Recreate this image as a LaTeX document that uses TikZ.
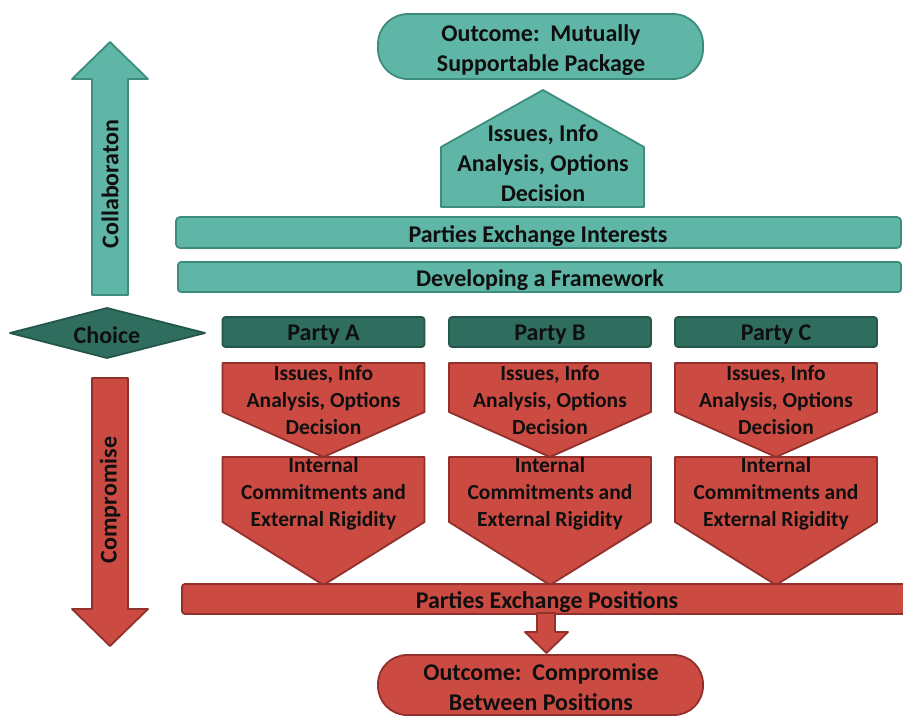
\documentclass[tikz,border=0pt]{standalone}
\usepackage{fontspec}
\setmainfont{Carlito}
\definecolor{tealfill}{RGB}{95,181,166}
\definecolor{tealline}{RGB}{62,140,125}
\definecolor{darkfill}{RGB}{47,110,95}
\definecolor{darkline}{RGB}{36,86,74}
\definecolor{redfill}{RGB}{203,75,67}
\definecolor{redline}{RGB}{146,48,44}
\definecolor{ink}{RGB}{15,15,15}
\begin{document}
\begin{tikzpicture}[x=1pt,y=-1pt,
  tealshape/.style={fill=tealfill,draw=tealline,line width=1.8pt,line join=round},
  darkshape/.style={fill=darkfill,draw=darkline,line width=1.8pt,line join=round},
  redshape/.style={fill=redfill,draw=redline,line width=1.8pt,line join=round},
  bigtext/.style={font=\bfseries\fontsize{24}{30}\selectfont,text=ink,align=center,inner sep=0pt},
  smalltext/.style={font=\bfseries\fontsize{21.5}{27}\selectfont,text=ink,align=center,inner sep=0pt},
  oneline/.style={bigtext,yshift=-3pt},
  vtext/.style={font=\bfseries\fontsize{24}{28}\selectfont,text=ink,rotate=90,inner sep=0pt}]
\useasboundingbox (0,0) rectangle (903,716);

% collaboration arrow (up)
\draw[tealshape] (92,295) -- (92,79) -- (72,79) -- (110,42) -- (148,79)
  -- (128,79) -- (128,295) -- cycle;
\node[vtext] (collab) at (110,184) {Collaboraton};

% compromise arrow (down)
\draw[redshape] (92,378) -- (92,609) -- (72,609) -- (110,646) -- (148,609)
  -- (128,609) -- (128,378) -- cycle;
\node[vtext] (compro) at (110,500) {Compromise};

% choice diamond
\draw[darkshape] (10,333) -- (107,308) -- (205,333) -- (107,358) -- cycle;
\node[oneline] (choice) at (107,332) {Choice};

% collaborative track
\draw[tealshape,rounded corners=30pt] (378,14) rectangle (703,79);
\node[bigtext] (outtop) at (541,50.5) {Outcome:\ \ Mutually\\Supportable Package};

\draw[tealshape] (441,147) -- (543,90) -- (644,147) -- (644,207) -- (441,207) -- cycle;
\node[bigtext] (house) at (543,163) {Issues, Info\\Analysis, Options\\Decision};

\draw[tealshape,rounded corners=4pt] (176,217) rectangle (901,248);
\node[oneline] (interests) at (538,233) {Parties Exchange Interests};

\draw[tealshape,rounded corners=3pt] (178,262) rectangle (901,292);
\node[oneline] (framework) at (540,277) {Developing a Framework};

% parties and their internal processes
\foreach \cx/\p in {323.5/A,550/B,776/C}{
  \draw[darkshape,rounded corners=3pt] (\cx-101,317) rectangle (\cx+101,347);
  \node[oneline] (party\p) at (\cx,332) {Party \p};
  \draw[redshape] (\cx-101,363) -- (\cx+101,363) -- (\cx+101,412) -- (\cx,457)
    -- (\cx-101,412) -- cycle;
  \node[smalltext] (issues\p) at (\cx,400) {Issues, Info\\Analysis, Options\\Decision};
  \draw[redshape] (\cx-101,457) -- (\cx+101,457) -- (\cx+101,522) -- (\cx,585)
    -- (\cx-101,522) -- cycle;
  \node[smalltext] (commit\p) at (\cx,494) {Internal\\Commitments and\\External Rigidity};
}

% compromise track
\draw[redshape,rounded corners=3pt] (182,584) rectangle (906,614);
\node[oneline] (positions) at (547,599) {Parties Exchange Positions};

\draw[redshape] (537,613) -- (537,632) -- (525,632) -- (546.5,653) -- (568,632)
  -- (555,632) -- (555,613) -- cycle;

\draw[redshape,rounded corners=29pt] (378,655) rectangle (703,715);
\node[bigtext] (outbot) at (541,687) {Outcome:\ \ Compromise\\Between Positions};
\end{tikzpicture}
\end{document}
